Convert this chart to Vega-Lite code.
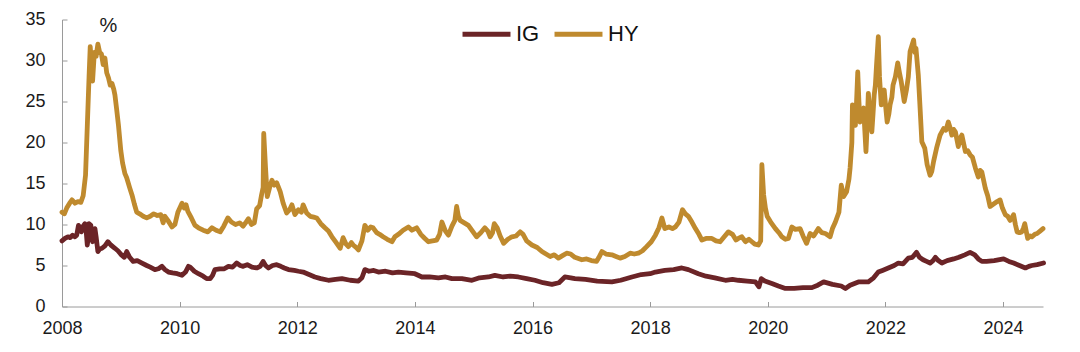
{
"$schema": "https://vega.github.io/schema/vega-lite/v6.json",
"width": 981, "height": 287,
"autosize": {"type": "none"},
"padding": {"left": 62, "top": 19.5, "right": 37, "bottom": 45.5},
"background": "white",
"config": {"view": {"stroke": null}, "font": "Liberation Sans"},
"datasets": {
"hy": [{"t":2008.00,"v":11.5},{"t":2008.04,"v":11.3},{"t":2008.08,"v":12.0},{"t":2008.13,"v":12.6},{"t":2008.17,"v":13.0},{"t":2008.22,"v":12.6},{"t":2008.27,"v":12.8},{"t":2008.32,"v":12.7},{"t":2008.36,"v":13.5},{"t":2008.40,"v":16.0},{"t":2008.43,"v":22.0},{"t":2008.46,"v":28.0},{"t":2008.48,"v":31.7},{"t":2008.50,"v":29.5},{"t":2008.52,"v":27.5},{"t":2008.55,"v":31.0},{"t":2008.58,"v":30.5},{"t":2008.61,"v":32.0},{"t":2008.64,"v":31.0},{"t":2008.67,"v":30.8},{"t":2008.70,"v":29.5},{"t":2008.73,"v":30.3},{"t":2008.76,"v":28.5},{"t":2008.79,"v":27.9},{"t":2008.82,"v":27.0},{"t":2008.85,"v":27.2},{"t":2008.88,"v":26.5},{"t":2008.90,"v":25.8},{"t":2008.93,"v":24.0},{"t":2008.96,"v":22.1},{"t":2009.00,"v":19.0},{"t":2009.03,"v":17.5},{"t":2009.07,"v":16.2},{"t":2009.10,"v":15.7},{"t":2009.15,"v":14.5},{"t":2009.19,"v":13.6},{"t":2009.23,"v":12.5},{"t":2009.27,"v":11.5},{"t":2009.32,"v":11.3},{"t":2009.38,"v":11.0},{"t":2009.44,"v":10.8},{"t":2009.50,"v":11.0},{"t":2009.56,"v":11.3},{"t":2009.62,"v":11.1},{"t":2009.68,"v":11.2},{"t":2009.72,"v":10.2},{"t":2009.75,"v":11.0},{"t":2009.80,"v":10.5},{"t":2009.87,"v":9.7},{"t":2009.92,"v":10.0},{"t":2009.97,"v":11.5},{"t":2010.04,"v":12.6},{"t":2010.08,"v":12.0},{"t":2010.11,"v":12.4},{"t":2010.14,"v":11.6},{"t":2010.20,"v":10.8},{"t":2010.26,"v":9.9},{"t":2010.32,"v":9.6},{"t":2010.40,"v":9.3},{"t":2010.48,"v":9.1},{"t":2010.55,"v":9.6},{"t":2010.62,"v":9.3},{"t":2010.69,"v":9.1},{"t":2010.75,"v":9.8},{"t":2010.82,"v":10.8},{"t":2010.88,"v":10.3},{"t":2010.95,"v":10.0},{"t":2011.02,"v":10.2},{"t":2011.08,"v":9.8},{"t":2011.13,"v":10.3},{"t":2011.17,"v":10.7},{"t":2011.22,"v":10.0},{"t":2011.27,"v":10.2},{"t":2011.31,"v":11.9},{"t":2011.36,"v":12.3},{"t":2011.39,"v":13.5},{"t":2011.42,"v":14.5},{"t":2011.43,"v":21.1},{"t":2011.46,"v":17.0},{"t":2011.49,"v":13.4},{"t":2011.53,"v":14.5},{"t":2011.57,"v":15.4},{"t":2011.61,"v":14.8},{"t":2011.65,"v":15.1},{"t":2011.71,"v":14.0},{"t":2011.76,"v":12.6},{"t":2011.82,"v":11.4},{"t":2011.87,"v":11.8},{"t":2011.91,"v":12.4},{"t":2011.96,"v":11.2},{"t":2012.02,"v":11.8},{"t":2012.07,"v":11.5},{"t":2012.10,"v":12.4},{"t":2012.16,"v":11.4},{"t":2012.22,"v":11.0},{"t":2012.28,"v":10.9},{"t":2012.33,"v":10.8},{"t":2012.40,"v":10.1},{"t":2012.47,"v":9.6},{"t":2012.53,"v":9.2},{"t":2012.59,"v":8.5},{"t":2012.65,"v":7.9},{"t":2012.73,"v":7.1},{"t":2012.78,"v":8.4},{"t":2012.83,"v":7.6},{"t":2012.87,"v":7.3},{"t":2012.92,"v":7.8},{"t":2012.95,"v":7.5},{"t":2013.00,"v":7.2},{"t":2013.04,"v":6.9},{"t":2013.10,"v":8.0},{"t":2013.15,"v":9.9},{"t":2013.20,"v":9.3},{"t":2013.25,"v":9.7},{"t":2013.29,"v":9.6},{"t":2013.35,"v":9.0},{"t":2013.40,"v":8.8},{"t":2013.46,"v":8.5},{"t":2013.53,"v":8.2},{"t":2013.61,"v":7.9},{"t":2013.66,"v":8.5},{"t":2013.72,"v":8.8},{"t":2013.80,"v":9.3},{"t":2013.89,"v":9.7},{"t":2013.95,"v":9.3},{"t":2014.03,"v":9.6},{"t":2014.10,"v":8.8},{"t":2014.17,"v":8.3},{"t":2014.23,"v":7.9},{"t":2014.30,"v":8.0},{"t":2014.37,"v":8.1},{"t":2014.42,"v":8.8},{"t":2014.46,"v":10.3},{"t":2014.52,"v":9.2},{"t":2014.57,"v":8.7},{"t":2014.63,"v":9.8},{"t":2014.68,"v":10.5},{"t":2014.71,"v":12.2},{"t":2014.74,"v":11.0},{"t":2014.77,"v":10.5},{"t":2014.84,"v":10.2},{"t":2014.91,"v":9.9},{"t":2014.98,"v":9.2},{"t":2015.05,"v":8.5},{"t":2015.12,"v":9.0},{"t":2015.19,"v":9.6},{"t":2015.24,"v":9.2},{"t":2015.28,"v":8.5},{"t":2015.32,"v":9.0},{"t":2015.35,"v":10.1},{"t":2015.40,"v":9.6},{"t":2015.45,"v":8.6},{"t":2015.51,"v":7.7},{"t":2015.58,"v":8.2},{"t":2015.65,"v":8.5},{"t":2015.72,"v":8.6},{"t":2015.79,"v":9.1},{"t":2015.84,"v":8.8},{"t":2015.90,"v":8.0},{"t":2015.99,"v":7.5},{"t":2016.08,"v":7.2},{"t":2016.16,"v":6.7},{"t":2016.23,"v":6.4},{"t":2016.30,"v":6.1},{"t":2016.37,"v":6.3},{"t":2016.44,"v":5.9},{"t":2016.51,"v":6.2},{"t":2016.58,"v":6.5},{"t":2016.65,"v":6.4},{"t":2016.72,"v":6.0},{"t":2016.84,"v":5.7},{"t":2016.92,"v":5.8},{"t":2017.00,"v":5.6},{"t":2017.09,"v":5.5},{"t":2017.13,"v":6.0},{"t":2017.18,"v":6.7},{"t":2017.25,"v":6.4},{"t":2017.35,"v":6.3},{"t":2017.42,"v":6.1},{"t":2017.49,"v":5.9},{"t":2017.57,"v":6.1},{"t":2017.66,"v":6.5},{"t":2017.73,"v":6.4},{"t":2017.80,"v":6.5},{"t":2017.87,"v":6.8},{"t":2017.94,"v":7.3},{"t":2018.02,"v":7.9},{"t":2018.09,"v":8.7},{"t":2018.15,"v":9.6},{"t":2018.20,"v":10.8},{"t":2018.25,"v":9.5},{"t":2018.32,"v":9.7},{"t":2018.38,"v":9.5},{"t":2018.43,"v":9.7},{"t":2018.49,"v":10.3},{"t":2018.55,"v":11.8},{"t":2018.60,"v":11.3},{"t":2018.65,"v":11.0},{"t":2018.71,"v":10.3},{"t":2018.77,"v":9.5},{"t":2018.83,"v":8.8},{"t":2018.88,"v":8.1},{"t":2018.95,"v":8.3},{"t":2019.05,"v":8.3},{"t":2019.12,"v":8.0},{"t":2019.19,"v":7.9},{"t":2019.26,"v":8.5},{"t":2019.33,"v":9.1},{"t":2019.40,"v":8.8},{"t":2019.46,"v":8.1},{"t":2019.50,"v":8.3},{"t":2019.56,"v":8.5},{"t":2019.62,"v":7.9},{"t":2019.68,"v":8.2},{"t":2019.73,"v":7.9},{"t":2019.78,"v":7.6},{"t":2019.84,"v":7.5},{"t":2019.88,"v":8.0},{"t":2019.90,"v":17.3},{"t":2019.93,"v":13.6},{"t":2019.96,"v":12.0},{"t":2019.99,"v":11.0},{"t":2020.05,"v":10.3},{"t":2020.13,"v":9.5},{"t":2020.19,"v":9.0},{"t":2020.24,"v":8.5},{"t":2020.30,"v":8.2},{"t":2020.35,"v":8.3},{"t":2020.41,"v":9.7},{"t":2020.47,"v":9.4},{"t":2020.55,"v":9.5},{"t":2020.60,"v":8.6},{"t":2020.66,"v":7.7},{"t":2020.72,"v":8.9},{"t":2020.78,"v":8.6},{"t":2020.86,"v":9.5},{"t":2020.92,"v":9.0},{"t":2020.98,"v":8.9},{"t":2021.06,"v":8.5},{"t":2021.10,"v":9.5},{"t":2021.15,"v":10.3},{"t":2021.21,"v":11.5},{"t":2021.25,"v":14.8},{"t":2021.29,"v":13.4},{"t":2021.34,"v":14.0},{"t":2021.38,"v":15.5},{"t":2021.40,"v":16.9},{"t":2021.43,"v":20.0},{"t":2021.44,"v":24.6},{"t":2021.47,"v":23.0},{"t":2021.49,"v":22.1},{"t":2021.51,"v":25.0},{"t":2021.53,"v":28.6},{"t":2021.55,"v":25.0},{"t":2021.57,"v":22.5},{"t":2021.60,"v":23.5},{"t":2021.63,"v":24.2},{"t":2021.65,"v":21.5},{"t":2021.67,"v":18.9},{"t":2021.69,"v":22.0},{"t":2021.71,"v":26.0},{"t":2021.74,"v":23.5},{"t":2021.77,"v":21.3},{"t":2021.79,"v":23.5},{"t":2021.81,"v":25.8},{"t":2021.83,"v":27.0},{"t":2021.85,"v":29.5},{"t":2021.88,"v":32.9},{"t":2021.90,"v":28.0},{"t":2021.93,"v":24.6},{"t":2021.95,"v":25.5},{"t":2021.98,"v":26.4},{"t":2022.01,"v":24.0},{"t":2022.03,"v":22.5},{"t":2022.06,"v":23.5},{"t":2022.08,"v":24.6},{"t":2022.11,"v":25.5},{"t":2022.13,"v":27.0},{"t":2022.17,"v":28.0},{"t":2022.21,"v":29.7},{"t":2022.24,"v":28.5},{"t":2022.27,"v":27.4},{"t":2022.30,"v":26.0},{"t":2022.32,"v":25.0},{"t":2022.36,"v":26.5},{"t":2022.39,"v":28.0},{"t":2022.42,"v":31.1},{"t":2022.45,"v":31.8},{"t":2022.48,"v":32.5},{"t":2022.50,"v":31.0},{"t":2022.52,"v":31.5},{"t":2022.56,"v":28.2},{"t":2022.59,"v":24.2},{"t":2022.62,"v":20.1},{"t":2022.67,"v":19.3},{"t":2022.71,"v":17.3},{"t":2022.76,"v":16.0},{"t":2022.79,"v":16.5},{"t":2022.82,"v":17.7},{"t":2022.87,"v":19.3},{"t":2022.93,"v":20.9},{"t":2022.99,"v":21.7},{"t":2023.03,"v":21.5},{"t":2023.07,"v":22.5},{"t":2023.10,"v":21.8},{"t":2023.13,"v":20.9},{"t":2023.16,"v":21.6},{"t":2023.19,"v":21.3},{"t":2023.24,"v":19.5},{"t":2023.27,"v":20.5},{"t":2023.30,"v":20.9},{"t":2023.36,"v":18.9},{"t":2023.40,"v":19.0},{"t":2023.44,"v":18.5},{"t":2023.48,"v":18.2},{"t":2023.53,"v":16.9},{"t":2023.58,"v":15.8},{"t":2023.61,"v":16.6},{"t":2023.64,"v":16.4},{"t":2023.70,"v":14.4},{"t":2023.74,"v":13.5},{"t":2023.78,"v":12.2},{"t":2023.84,"v":12.5},{"t":2023.90,"v":12.8},{"t":2023.95,"v":13.0},{"t":2023.99,"v":12.0},{"t":2024.04,"v":11.2},{"t":2024.08,"v":11.0},{"t":2024.12,"v":10.5},{"t":2024.15,"v":10.8},{"t":2024.18,"v":11.2},{"t":2024.21,"v":10.0},{"t":2024.24,"v":9.1},{"t":2024.28,"v":9.0},{"t":2024.32,"v":9.1},{"t":2024.35,"v":9.6},{"t":2024.37,"v":10.1},{"t":2024.40,"v":9.0},{"t":2024.42,"v":8.3},{"t":2024.46,"v":8.6},{"t":2024.49,"v":8.5},{"t":2024.54,"v":8.8},{"t":2024.58,"v":8.9},{"t":2024.63,"v":9.2},{"t":2024.68,"v":9.5}],
"ig": [{"t":2008.00,"v":8.0},{"t":2008.05,"v":8.3},{"t":2008.10,"v":8.5},{"t":2008.14,"v":8.4},{"t":2008.18,"v":8.7},{"t":2008.22,"v":8.5},{"t":2008.25,"v":8.7},{"t":2008.28,"v":9.9},{"t":2008.31,"v":9.6},{"t":2008.33,"v":9.1},{"t":2008.36,"v":9.8},{"t":2008.39,"v":10.1},{"t":2008.41,"v":9.3},{"t":2008.43,"v":7.5},{"t":2008.45,"v":8.6},{"t":2008.46,"v":10.1},{"t":2008.49,"v":9.9},{"t":2008.52,"v":7.9},{"t":2008.54,"v":8.8},{"t":2008.56,"v":9.5},{"t":2008.58,"v":8.5},{"t":2008.61,"v":6.7},{"t":2008.64,"v":7.0},{"t":2008.68,"v":7.1},{"t":2008.73,"v":7.4},{"t":2008.78,"v":7.9},{"t":2008.83,"v":7.5},{"t":2008.90,"v":7.1},{"t":2008.95,"v":6.8},{"t":2009.01,"v":6.3},{"t":2009.06,"v":6.0},{"t":2009.10,"v":6.7},{"t":2009.15,"v":6.0},{"t":2009.21,"v":5.5},{"t":2009.28,"v":5.6},{"t":2009.36,"v":5.3},{"t":2009.44,"v":5.0},{"t":2009.50,"v":4.8},{"t":2009.58,"v":4.5},{"t":2009.64,"v":4.6},{"t":2009.70,"v":4.9},{"t":2009.75,"v":4.5},{"t":2009.81,"v":4.2},{"t":2009.88,"v":4.1},{"t":2009.96,"v":4.0},{"t":2010.04,"v":3.8},{"t":2010.10,"v":4.2},{"t":2010.15,"v":4.9},{"t":2010.18,"v":4.8},{"t":2010.25,"v":4.3},{"t":2010.32,"v":4.0},{"t":2010.40,"v":3.7},{"t":2010.46,"v":3.4},{"t":2010.52,"v":3.4},{"t":2010.56,"v":3.8},{"t":2010.60,"v":4.5},{"t":2010.68,"v":4.6},{"t":2010.76,"v":4.6},{"t":2010.83,"v":4.9},{"t":2010.90,"v":4.8},{"t":2010.97,"v":5.3},{"t":2011.03,"v":5.0},{"t":2011.08,"v":4.9},{"t":2011.15,"v":5.1},{"t":2011.23,"v":4.8},{"t":2011.31,"v":4.7},{"t":2011.37,"v":4.9},{"t":2011.42,"v":5.5},{"t":2011.46,"v":5.0},{"t":2011.51,"v":4.7},{"t":2011.58,"v":5.0},{"t":2011.65,"v":5.1},{"t":2011.72,"v":4.9},{"t":2011.78,"v":4.7},{"t":2011.85,"v":4.5},{"t":2011.95,"v":4.4},{"t":2012.02,"v":4.3},{"t":2012.10,"v":4.2},{"t":2012.20,"v":3.9},{"t":2012.30,"v":3.6},{"t":2012.40,"v":3.4},{"t":2012.53,"v":3.2},{"t":2012.65,"v":3.3},{"t":2012.76,"v":3.4},{"t":2012.90,"v":3.2},{"t":2013.04,"v":3.1},{"t":2013.10,"v":3.5},{"t":2013.15,"v":4.5},{"t":2013.22,"v":4.3},{"t":2013.30,"v":4.4},{"t":2013.38,"v":4.2},{"t":2013.50,"v":4.3},{"t":2013.62,"v":4.1},{"t":2013.72,"v":4.2},{"t":2013.85,"v":4.1},{"t":2014.00,"v":4.0},{"t":2014.12,"v":3.6},{"t":2014.25,"v":3.6},{"t":2014.40,"v":3.5},{"t":2014.52,"v":3.6},{"t":2014.63,"v":3.4},{"t":2014.80,"v":3.4},{"t":2014.97,"v":3.2},{"t":2015.10,"v":3.5},{"t":2015.25,"v":3.6},{"t":2015.36,"v":3.8},{"t":2015.50,"v":3.6},{"t":2015.62,"v":3.7},{"t":2015.76,"v":3.6},{"t":2015.90,"v":3.4},{"t":2016.04,"v":3.2},{"t":2016.18,"v":2.9},{"t":2016.33,"v":2.7},{"t":2016.45,"v":2.9},{"t":2016.55,"v":3.6},{"t":2016.65,"v":3.5},{"t":2016.72,"v":3.4},{"t":2016.90,"v":3.3},{"t":2017.10,"v":3.1},{"t":2017.35,"v":3.0},{"t":2017.50,"v":3.2},{"t":2017.69,"v":3.6},{"t":2017.85,"v":3.9},{"t":2018.00,"v":4.0},{"t":2018.09,"v":4.2},{"t":2018.25,"v":4.4},{"t":2018.40,"v":4.5},{"t":2018.54,"v":4.7},{"t":2018.65,"v":4.5},{"t":2018.82,"v":4.0},{"t":2018.95,"v":3.7},{"t":2019.10,"v":3.5},{"t":2019.28,"v":3.2},{"t":2019.40,"v":3.3},{"t":2019.50,"v":3.2},{"t":2019.65,"v":3.1},{"t":2019.79,"v":3.0},{"t":2019.85,"v":2.4},{"t":2019.89,"v":3.4},{"t":2019.95,"v":3.1},{"t":2020.07,"v":2.8},{"t":2020.18,"v":2.5},{"t":2020.30,"v":2.2},{"t":2020.45,"v":2.2},{"t":2020.60,"v":2.3},{"t":2020.75,"v":2.3},{"t":2020.85,"v":2.6},{"t":2020.95,"v":3.0},{"t":2021.10,"v":2.7},{"t":2021.25,"v":2.5},{"t":2021.32,"v":2.2},{"t":2021.40,"v":2.6},{"t":2021.54,"v":3.0},{"t":2021.71,"v":3.0},{"t":2021.80,"v":3.5},{"t":2021.88,"v":4.2},{"t":2021.95,"v":4.4},{"t":2022.05,"v":4.7},{"t":2022.15,"v":5.0},{"t":2022.22,"v":5.3},{"t":2022.30,"v":5.2},{"t":2022.39,"v":5.9},{"t":2022.46,"v":6.0},{"t":2022.53,"v":6.6},{"t":2022.58,"v":6.0},{"t":2022.64,"v":5.7},{"t":2022.70,"v":5.5},{"t":2022.76,"v":5.3},{"t":2022.81,"v":5.6},{"t":2022.85,"v":6.0},{"t":2022.90,"v":5.6},{"t":2022.96,"v":5.3},{"t":2023.05,"v":5.6},{"t":2023.16,"v":5.8},{"t":2023.25,"v":6.0},{"t":2023.35,"v":6.3},{"t":2023.44,"v":6.6},{"t":2023.52,"v":6.3},{"t":2023.58,"v":5.8},{"t":2023.64,"v":5.5},{"t":2023.72,"v":5.5},{"t":2023.85,"v":5.6},{"t":2024.01,"v":5.8},{"t":2024.10,"v":5.5},{"t":2024.18,"v":5.3},{"t":2024.28,"v":5.0},{"t":2024.38,"v":4.7},{"t":2024.44,"v":4.9},{"t":2024.49,"v":5.0},{"t":2024.58,"v":5.1},{"t":2024.69,"v":5.3}]
},
"layer": [
{
"data": {"name": "ig"},
"mark": {"type": "line", "strokeWidth": 4.8, "strokeJoin": "round", "strokeCap": "round"},
"encoding": {
"x": {"field": "t", "type": "quantitative"},
"y": {"field": "v", "type": "quantitative"},
"color": {"datum": "IG"}
}
},
{
"data": {"name": "hy"},
"mark": {"type": "line", "strokeWidth": 4.8, "strokeJoin": "round", "strokeCap": "round"},
"encoding": {
"x": {"field": "t", "type": "quantitative", "scale": {"domain": [2008, 2024.68], "nice": false, "zero": false},
"axis": {"values": [2008, 2010, 2012, 2014, 2016, 2018, 2020, 2022, 2024], "format": "d", "title": null, "grid": false, "tickSize": -5, "labelPadding": 18, "domainColor": "#9a9a9a", "tickColor": "#9a9a9a", "labelFontSize": 18, "labelColor": "#1a1a1a", "labelFlush": false, "labelFont": "Liberation Sans"}},
"y": {"field": "v", "type": "quantitative", "scale": {"domain": [0, 35], "nice": false},
"axis": {"values": [0, 5, 10, 15, 20, 25, 30, 35], "title": "%", "titleAngle": 0, "titleX": 46, "titleY": 6, "titleAlign": "center", "titleBaseline": "middle", "titleFontSize": 20, "titleFontWeight": "normal", "titleColor": "#1a1a1a", "titleFont": "Liberation Sans", "grid": false, "tickSize": -5, "labelPadding": 22, "domainColor": "#9a9a9a", "tickColor": "#9a9a9a", "labelFontSize": 18, "labelColor": "#1a1a1a", "labelFont": "Liberation Sans"}},
"color": {"datum": "HY", "type": "nominal", "scale": {"domain": ["IG", "HY"], "range": ["#6B2427", "#BF8A2E"]},
"legend": {"title": null, "orient": "none", "legendX": 398, "legendY": -12, "direction": "horizontal", "symbolType": "stroke", "symbolSize": 2300, "symbolStrokeWidth": 5, "labelFontSize": 22, "labelColor": "#111", "labelFont": "Liberation Sans", "columnPadding": 4, "labelOffset": 3}}
}
}
]
}
